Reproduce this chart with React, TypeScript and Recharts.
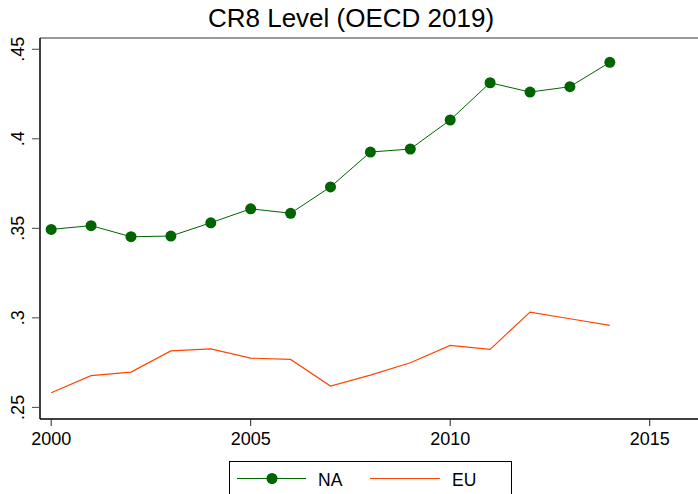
import React from "react";
import {
  LineChart,
  Line,
  XAxis,
  YAxis,
  ReferenceLine,
  Legend,
} from "recharts";

const years = [2000, 2001, 2002, 2003, 2004, 2005, 2006, 2007, 2008, 2009, 2010, 2011, 2012, 2013, 2014];
const naValues = [0.3494, 0.3515, 0.3453, 0.3457, 0.3531, 0.3609, 0.3584, 0.3731, 0.3926, 0.3943, 0.4105, 0.4313, 0.4261, 0.4291, 0.4427];
const euValues = [0.2582, 0.2677, 0.2697, 0.2815, 0.2827, 0.2775, 0.2768, 0.2619, 0.268, 0.2749, 0.2846, 0.2824, 0.3032, 0.2995, 0.2958];

const xTicks = [2000, 2005, 2010, 2015];
const yTicks = [0.25, 0.3, 0.35, 0.4, 0.45];
const yTickLabels = [".25", ".3", ".35", ".4", ".45"];

const X_DOMAIN = [1999.72, 2016.21];
const Y_DOMAIN = [0.2435, 0.4563];

const FONT = '"Liberation Sans", Arial, Helvetica, sans-serif';
const GREEN = "#006400";
const ORANGE = "#ff4500";

const data = years.map((year, i) => ({
  year,
  na: naValues[i],
  eu: euValues[i],
}));

// rotated y tick labels, like Stata
const YTick = (props: any) => {
  const { x, y, payload } = props;
  const idx = yTicks.indexOf(payload.value);
  const label = idx >= 0 ? yTickLabels[idx] : String(payload.value);
  return (
    <text
      x={x}
      y={y}
      transform={`rotate(-90, ${x}, ${y})`}
      textAnchor="middle"
      fontSize={18}
      fontFamily={FONT}
      fill="#000"
    >
      {label}
    </text>
  );
};

const LegendBox = () => (
  <svg width={283} height={40} style={{ display: "block" }}>
    <line x1={7} y1={16.5} x2={76} y2={16.5} stroke={GREEN} strokeWidth={1} />
    <circle cx={42} cy={16.5} r={5.5} fill={GREEN} />
    <text x={88} y={23.5} fontSize={17.5} fontFamily={FONT} fill="#000">
      NA
    </text>
    <line x1={140} y1={16.5} x2={210} y2={16.5} stroke={ORANGE} strokeWidth={1.2} />
    <text x={222} y={23.5} fontSize={17.5} fontFamily={FONT} fill="#000">
      EU
    </text>
  </svg>
);

export default function App() {
  return (
    <div
      style={{
        position: "absolute",
        left: 0,
        top: 0,
        width: 698,
        height: 494,
        overflow: "hidden",
        background: "#fff",
      }}
    >
      <div
        style={{
          position: "absolute",
          left: 0,
          top: 0,
          width: 698,
          textAlign: "center",
          fontFamily: FONT,
          fontSize: 26,
          lineHeight: "36px",
          color: "#000",
          paddingLeft: 2,
        }}
      >
        CR8 Level (OECD 2019)
      </div>
      <LineChart
        width={698}
        height={494}
        data={data}
        margin={{ top: 38, right: 0, bottom: 0, left: 0 }}
      >
        <XAxis
          dataKey="year"
          type="number"
          domain={X_DOMAIN}
          ticks={xTicks}
          allowDataOverflow
          height={75}
          tickSize={7}
          tickMargin={6}
          axisLine={{ stroke: "#000", strokeWidth: 1.5 }}
          tickLine={{ stroke: "#222", strokeWidth: 1 }}
          tick={{ fontSize: 18, fontFamily: FONT, fill: "#000" }}
        />
        <YAxis
          type="number"
          domain={Y_DOMAIN}
          ticks={yTicks}
          allowDataOverflow
          width={40}
          tickSize={8}
          tickMargin={7.5}
          axisLine={{ stroke: "#000", strokeWidth: 1.5 }}
          tickLine={{ stroke: "#444", strokeWidth: 1 }}
          tick={<YTick />}
        />
        <ReferenceLine y={Y_DOMAIN[1]} stroke="#777" strokeWidth={1.5} ifOverflow="extendDomain" />
        <Line
          dataKey="na"
          stroke={GREEN}
          strokeWidth={1}
          dot={{ r: 5.5, fill: GREEN, stroke: "none" }}
          isAnimationActive={false}
        />
        <Line
          dataKey="eu"
          stroke={ORANGE}
          strokeWidth={1.2}
          dot={false}
          isAnimationActive={false}
        />
        <Legend
          layout="vertical"
          align="center"
          verticalAlign="middle"
          wrapperStyle={{
            position: "absolute",
            left: 229,
            top: 461,
            width: 283,
            height: 40,
            border: "1px solid #000",
            boxSizing: "border-box",
            background: "#fff",
          }}
          content={() => <LegendBox />}
        />
      </LineChart>
    </div>
  );
}
